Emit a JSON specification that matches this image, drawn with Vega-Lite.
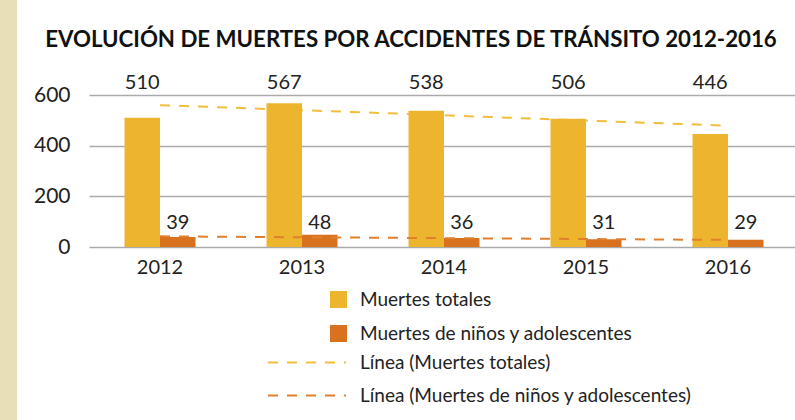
{
  "$schema": "https://vega.github.io/schema/vega-lite/v6.json",
  "padding": 0,
  "background": "white",
  "spacing": 16,
  "center": true,
  "config": {
    "font": "Lato",
    "view": {"stroke": null},
    "text": {"font": "Lato", "color": "#222222"}
  },
  "hconcat": [
    {
      "width": 17,
      "height": 432,
      "data": {"values": []},
      "view": {"fill": "#E8DFB8", "stroke": null},
      "mark": "rect",
      "encoding": {}
    },
    {
      "width": 710,
      "height": 152,
      "title": {
        "text": "EVOLUCIÓN DE MUERTES POR ACCIDENTES DE TRÁNSITO 2012-2016",
        "font": "Lato",
        "fontSize": 22.25,
        "fontWeight": "bold",
        "color": "#111111",
        "anchor": "middle",
        "frame": "group",
        "dx": -33,
        "offset": 22
      },
      "data": {
        "values": [
          {"year": "2012", "serie": "Muertes totales", "value": 510, "linea": "Línea (Muertes totales)", "trend": 560},
          {"year": "2013", "serie": "Muertes totales", "value": 567, "linea": "Línea (Muertes totales)", "trend": 540},
          {"year": "2014", "serie": "Muertes totales", "value": 538, "linea": "Línea (Muertes totales)", "trend": 520},
          {"year": "2015", "serie": "Muertes totales", "value": 506, "linea": "Línea (Muertes totales)", "trend": 499},
          {"year": "2016", "serie": "Muertes totales", "value": 446, "linea": "Línea (Muertes totales)", "trend": 479},
          {"year": "2012", "serie": "Muertes de niños y adolescentes", "value": 39, "linea": "Línea (Muertes de niños y adolescentes)", "trend": 42},
          {"year": "2013", "serie": "Muertes de niños y adolescentes", "value": 48, "linea": "Línea (Muertes de niños y adolescentes)", "trend": 38.5},
          {"year": "2014", "serie": "Muertes de niños y adolescentes", "value": 36, "linea": "Línea (Muertes de niños y adolescentes)", "trend": 35},
          {"year": "2015", "serie": "Muertes de niños y adolescentes", "value": 31, "linea": "Línea (Muertes de niños y adolescentes)", "trend": 31.5},
          {"year": "2016", "serie": "Muertes de niños y adolescentes", "value": 29, "linea": "Línea (Muertes de niños y adolescentes)", "trend": 28}
        ]
      },
      "encoding": {
        "x": {
          "field": "year",
          "type": "nominal",
          "title": " ",
          "scale": {"paddingInner": 0.5, "paddingOuter": 0.25},
          "axis": {
            "labelAngle": 0,
            "labelFontSize": 20,
            "labelColor": "#222222",
            "labelPadding": 10,
            "titleFontSize": 10,
            "titlePadding": 50,
            "ticks": false,
            "domain": false,
            "grid": false
          }
        }
      },
      "layer": [
        {
          "transform": [{"filter": "datum.serie === 'Muertes totales'"}],
          "mark": {"type": "line", "strokeWidth": 2, "strokeDash": [10, 9], "strokeCap": "butt"},
          "encoding": {
            "y": {"field": "trend", "type": "quantitative"},
            "stroke": {
              "field": "linea",
              "type": "nominal",
              "scale": {
                "domain": ["Línea (Muertes totales)", "Línea (Muertes de niños y adolescentes)"],
                "range": ["#F0BE3A", "#E0802E"]
              },
              "legend": {
                "title": null,
                "orient": "none",
                "legendX": 329,
                "legendY": 353,
                "symbolType": "M-8.294,0H0.882",
                "symbolSize": 289,
                "symbolStrokeWidth": 2,
                "symbolDash": [10, 9],
                "symbolFillColor": "transparent",
                "labelFontSize": 19,
                "labelColor": "#222222",
                "labelOffset": 12,
                "labelLimit": 500,
                "rowPadding": 13,
                "padding": 0
              }
            }
          }
        },
        {
          "mark": {"type": "bar"},
          "encoding": {
            "y": {
              "field": "value",
              "type": "quantitative",
              "scale": {"domain": [0, 600], "nice": false},
              "axis": {
                "title": null,
                "values": [0, 200, 400, 600],
                "labelFontSize": 21,
                "labelColor": "#222222",
                "labelPadding": 19,
                "ticks": false,
                "domain": false,
                "gridColor": "#AAAAAA",
                "gridWidth": 1.5
              }
            },
            "xOffset": {
              "field": "serie",
              "type": "nominal",
              "scale": {"domain": ["Muertes totales", "Muertes de niños y adolescentes"], "paddingInner": 0, "paddingOuter": 0}
            },
            "color": {
              "field": "serie",
              "type": "nominal",
              "scale": {
                "domain": ["Muertes totales", "Muertes de niños y adolescentes"],
                "range": ["#EDB52E", "#D8721E"]
              },
              "legend": {
                "title": null,
                "orient": "none",
                "legendX": 329,
                "legendY": 290,
                "symbolType": "square",
                "symbolSize": 289,
                "symbolStrokeWidth": 0,
                "labelFontSize": 19,
                "labelColor": "#222222",
                "labelOffset": 12,
                "labelLimit": 500,
                "rowPadding": 14,
                "padding": 0
              }
            }
          }
        },
        {
          "transform": [{"filter": "datum.serie !== 'Muertes totales'"}],
          "mark": {"type": "line", "strokeWidth": 2, "strokeDash": [10, 9], "strokeCap": "butt"},
          "encoding": {
            "y": {"field": "trend", "type": "quantitative"},
            "stroke": {"field": "linea", "type": "nominal"}
          }
        },
        {
          "transform": [{"filter": "datum.serie === 'Muertes totales'"}],
          "mark": {"type": "text", "fontSize": 20, "baseline": "middle", "align": "center"},
          "encoding": {
            "y": {"datum": 647},
            "xOffset": {"field": "serie", "type": "nominal", "scale": {"domain": ["Muertes totales", "Muertes de niños y adolescentes"]}},
            "text": {"field": "value", "type": "quantitative"}
          }
        },
        {
          "transform": [{"filter": "datum.serie !== 'Muertes totales'"}],
          "mark": {"type": "text", "fontSize": 20, "baseline": "middle", "align": "center"},
          "encoding": {
            "y": {"datum": 95},
            "xOffset": {"field": "serie", "type": "nominal", "scale": {"domain": ["Muertes totales", "Muertes de niños y adolescentes"]}},
            "text": {"field": "value", "type": "quantitative"}
          }
        }
      ]
    }
  ]
}
